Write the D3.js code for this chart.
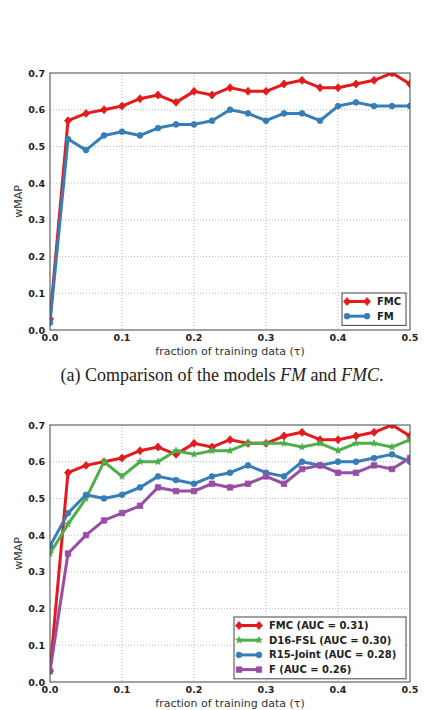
<!DOCTYPE html>
<html>
<head>
<meta charset="utf-8">
<script src="https://cdn.jsdelivr.net/npm/d3@7"></script>
<style>
  body { margin: 0; background: #fff; }
  svg text { font-family: "DejaVu Sans", sans-serif; }
</style>
</head>
<body>
<svg class="chart" width="430" height="710"></svg>
<script>
// x positions (fraction of training data)
var fractions = [0, 0.025, 0.05, 0.075, 0.1, 0.125, 0.15, 0.175, 0.2, 0.225, 0.25,
                 0.275, 0.3, 0.325, 0.35, 0.375, 0.4, 0.425, 0.45, 0.475, 0.5];

var fmc = [0.03, 0.57, 0.59, 0.60, 0.61, 0.63, 0.64, 0.62, 0.65, 0.64, 0.66,
           0.65, 0.65, 0.67, 0.68, 0.66, 0.66, 0.67, 0.68, 0.70, 0.67];
var fm = [0.02, 0.52, 0.49, 0.53, 0.54, 0.53, 0.55, 0.56, 0.56, 0.57, 0.60,
          0.59, 0.57, 0.59, 0.59, 0.57, 0.61, 0.62, 0.61, 0.61, 0.61];
var d16 = [0.35, 0.43, 0.50, 0.60, 0.56, 0.60, 0.60, 0.63, 0.62, 0.63, 0.63,
           0.65, 0.65, 0.65, 0.64, 0.65, 0.63, 0.65, 0.65, 0.64, 0.66];
var r15 = [0.37, 0.46, 0.51, 0.50, 0.51, 0.53, 0.56, 0.55, 0.54, 0.56, 0.57,
           0.59, 0.57, 0.56, 0.60, 0.59, 0.60, 0.60, 0.61, 0.62, 0.60];
var fOnly = [0.03, 0.35, 0.40, 0.44, 0.46, 0.48, 0.53, 0.52, 0.52, 0.54, 0.53,
             0.54, 0.56, 0.54, 0.58, 0.59, 0.57, 0.57, 0.59, 0.58, 0.61];

var xTicks = [0, 0.1, 0.2, 0.3, 0.4, 0.5];
var yTicks = [0, 0.1, 0.2, 0.3, 0.4, 0.5, 0.6, 0.7];

var topSeries = [
    { name: 'FMC', values: fmc, color: '#e41a1c', marker: 'diamond' },
    { name: 'FM', values: fm, color: '#377eb8', marker: 'circle' }
];
var bottomSeries = [
    { name: 'FMC (AUC = 0.31)', values: fmc, color: '#e41a1c', marker: 'diamond' },
    { name: 'D16-FSL (AUC = 0.30)', values: d16, color: '#4daf4a', marker: 'star' },
    { name: 'R15-Joint (AUC = 0.28)', values: r15, color: '#377eb8', marker: 'circle' },
    { name: 'F (AUC = 0.26)', values: fOnly, color: '#984ea3', marker: 'square' }
];

var svg = d3.select('.chart');
var left = 50, right = 410, plotH = 257;

function markerPath(type) {
    if (type === 'diamond') return 'M0,-4L3.5,0L0,4L-3.5,0Z';
    if (type === 'square') return d3.symbol(d3.symbolSquare, 30)();
    if (type === 'star') return d3.symbol(d3.symbolStar, 14)();
    return d3.symbol(d3.symbolCircle, 26)();
}

function drawPanel(top, series, legend) {
    var x = d3.scaleLinear().domain([0, 0.5]).range([left, right]);
    var y = d3.scaleLinear().domain([0, 0.7]).range([top + plotH, top]);
    var g = svg.append('g');

    // dotted grid
    g.selectAll('.gx').data(xTicks.slice(1, -1)).enter().append('line')
        .attr('x1', x).attr('x2', x).attr('y1', top).attr('y2', top + plotH)
        .attr('stroke', '#aaa').attr('stroke-width', 0.8).attr('stroke-dasharray', '1,2');
    g.selectAll('.gy').data(yTicks.slice(1, -1)).enter().append('line')
        .attr('y1', y).attr('y2', y).attr('x1', left).attr('x2', right)
        .attr('stroke', '#aaa').attr('stroke-width', 0.8).attr('stroke-dasharray', '1,2');

    var line = d3.line()
        .x(function (d, i) { return x(fractions[i]); })
        .y(function (d) { return y(d); });

    var clip = 'clip' + top;
    svg.append('clipPath').attr('id', clip).append('rect')
        .attr('x', left).attr('y', top).attr('width', right - left).attr('height', plotH);

    var lines = g.append('g').attr('clip-path', 'url(#' + clip + ')');
    series.forEach(function (s) {
        lines.append('path').datum(s.values)
            .attr('d', line).attr('fill', 'none')
            .attr('stroke', s.color).attr('stroke-width', 3)
            .attr('stroke-linejoin', 'round');
        lines.selectAll(null).data(s.values).enter().append('path')
            .attr('d', markerPath(s.marker))
            .attr('transform', function (d, i) { return 'translate(' + x(fractions[i]) + ',' + y(d) + ')'; })
            .attr('fill', s.color).attr('stroke', s.color).attr('stroke-width', 0.8);
    });

    // frame
    g.append('rect').attr('x', left).attr('y', top).attr('width', right - left).attr('height', plotH)
        .attr('fill', 'none').attr('stroke', '#444').attr('stroke-width', 1);

    // tick labels
    g.selectAll('.yl').data(yTicks).enter().append('text')
        .attr('x', left - 5).attr('y', function (d) { return y(d) + 3.5; })
        .attr('text-anchor', 'end').attr('font-size', 9.5).attr('font-weight', 'bold')
        .attr('fill', '#222').text(function (d) { return d.toFixed(1); });
    g.selectAll('.xl').data(xTicks).enter().append('text')
        .attr('x', x).attr('y', top + plotH + 10.5)
        .attr('text-anchor', 'middle').attr('font-size', 9.5).attr('font-weight', 'bold')
        .attr('fill', '#222').text(function (d) { return d.toFixed(1); });

    g.append('text').attr('x', (left + right) / 2).attr('y', top + plotH + 25)
        .attr('text-anchor', 'middle').attr('font-size', 11).attr('fill', '#333')
        .text('fraction of training data (τ)');
    g.append('text')
        .attr('transform', 'translate(22,' + (top + plotH / 2) + ') rotate(-90)')
        .attr('text-anchor', 'middle').attr('font-size', 11).attr('fill', '#333')
        .text('wMAP');

    // legend
    var lg = g.append('g');
    lg.append('rect').attr('x', legend.x).attr('y', legend.y)
        .attr('width', legend.w).attr('height', series.length * 14.7 + 3)
        .attr('fill', '#fff').attr('stroke', '#444').attr('stroke-width', 1);
    series.forEach(function (s, i) {
        var ly = legend.y + 8.5 + i * 14.7;
        lg.append('line').attr('x1', legend.x + 5).attr('x2', legend.x + legend.lineW + 5)
            .attr('y1', ly).attr('y2', ly).attr('stroke', s.color).attr('stroke-width', 3);
        [legend.x + 5, legend.x + legend.lineW + 5].forEach(function (mx) {
            lg.append('path').attr('d', markerPath(s.marker))
                .attr('transform', 'translate(' + mx + ',' + ly + ')')
                .attr('fill', s.color).attr('stroke', s.color).attr('stroke-width', 0.8);
        });
        lg.append('text').attr('x', legend.x + legend.lineW + 15).attr('y', ly + 3.5)
            .attr('font-size', 10).attr('font-weight', 'bold').attr('fill', '#222')
            .text(s.name);
    });
}

drawPanel(73, topSeries, { x: 342, y: 293, w: 64, lineW: 20 });
drawPanel(425, bottomSeries, { x: 234, y: 617, w: 172, lineW: 20 });

svg.append('text').attr('x', 222).attr('y', 381)
    .attr('text-anchor', 'middle').attr('font-size', 18)
    .style('font-family', '"Liberation Serif", serif').attr('fill', '#222')
    .html('(a) Comparison of the models <tspan font-style="italic">FM</tspan> and <tspan font-style="italic">FMC</tspan>.');
</script>
</body>
</html>
